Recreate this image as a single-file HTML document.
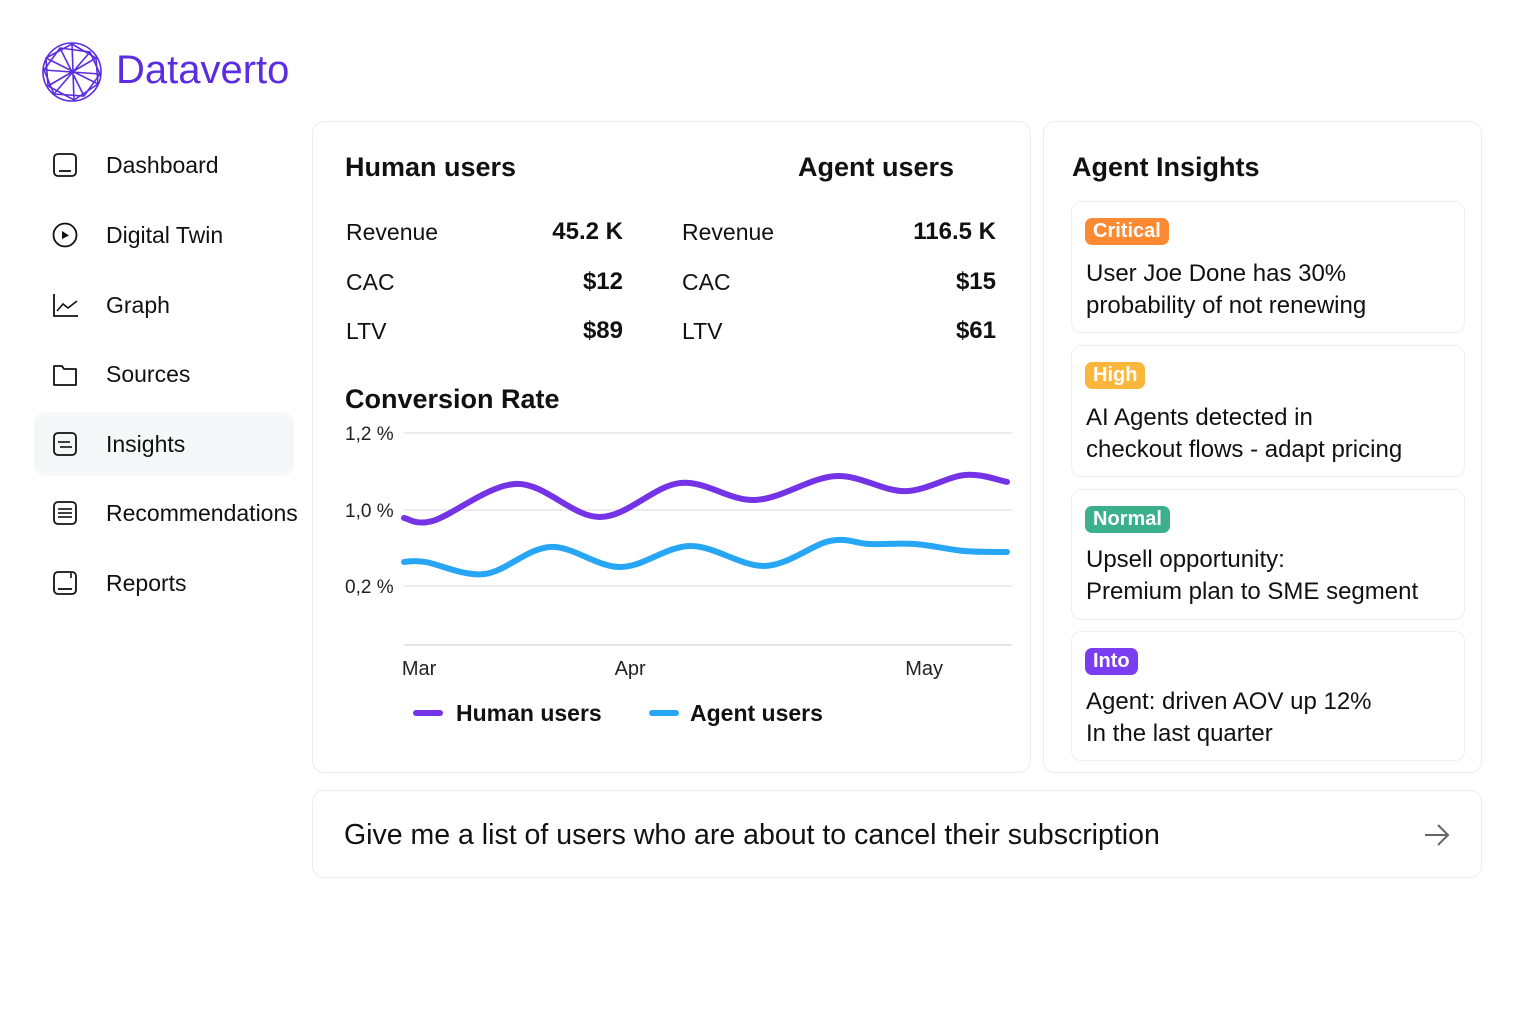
<!DOCTYPE html>
<html><head><meta charset="utf-8"><style>
*{box-sizing:border-box;margin:0;padding:0}
body{width:1536px;height:1024px;background:#fff;font-family:"Liberation Sans",sans-serif;color:#111;position:relative;overflow:hidden}
.a{position:absolute}
.card{position:absolute;border:1px solid #ececf1;border-radius:12px;background:#fff}
.nav{position:absolute;left:34px;width:260px;height:64px;display:flex;align-items:center;font-size:23px;color:#111}
.nav svg{position:absolute;left:18px}
.nav span{position:absolute;left:72px}
.h{font-size:27px;font-weight:bold}
.m{font-size:23px}
.b{font-size:24px;font-weight:bold;text-align:right}
.ins{position:absolute;left:1071px;width:394px;border:1px solid #efeff3;border-radius:10px}
.tag{position:absolute;left:13px;top:16px;color:#fff;font-weight:bold;font-size:20px;padding:2px 8px;border-radius:7px}
.it{position:absolute;left:14px;font-size:24px;line-height:32px;color:#111}
</style></head><body>
<div class="a" style="left:40px;top:40px;width:260px;height:64px">
<svg width="64" height="64" viewBox="0 0 64 64" class="a" style="left:0;top:0">
<g fill="none" stroke="#5b2de0" stroke-width="1.6"><circle cx="32" cy="32" r="29"/><polygon points="32,4 56,18 58,44 34,60 8,46 6,18"/><polygon points="20,8 50,12 60,34 44,56 14,54 4,30"/><line x1="6" y1="18" x2="58" y2="44"/><line x1="56" y1="18" x2="8" y2="46"/><line x1="32" y1="4" x2="34" y2="60"/><line x1="20" y1="8" x2="44" y2="56"/><line x1="50" y1="12" x2="14" y2="54"/><line x1="4" y1="30" x2="60" y2="34"/></g></svg>
<div class="a" style="left:76px;top:8px;font-size:40px;color:#5b2de0">Dataverto</div>
</div>

<div class="nav" style="top:133px"><svg width="26" height="26" viewBox="0 0 26 26"><rect x="2" y="2" width="22" height="22" rx="4" fill="none" stroke="#111" stroke-width="1.8"/><line x1="7" y1="19" x2="19" y2="19" stroke="#111" stroke-width="1.8"/></svg><span>Dashboard</span></div>
<div class="nav" style="top:203px"><svg width="26" height="26" viewBox="0 0 26 26"><circle cx="13" cy="13" r="11.5" fill="none" stroke="#111" stroke-width="1.8"/><polygon points="10,9 17,13.5 10,17" fill="#111"/></svg><span>Digital Twin</span></div>
<div class="nav" style="top:273px"><svg width="26" height="26" viewBox="0 0 26 26"><polyline points="2,2 2,24 26,24" fill="none" stroke="#111" stroke-width="1.8"/><polyline points="5,19 11,12 16,16 25,9" fill="none" stroke="#111" stroke-width="1.6"/></svg><span>Graph</span></div>
<div class="nav" style="top:342px"><svg width="26" height="26" viewBox="0 0 26 26"><path d="M2 5h8l2 3h12v16H2z" fill="none" stroke="#111" stroke-width="1.8" stroke-linejoin="round"/></svg><span>Sources</span></div>
<div class="nav" style="top:412px;background:#f6f7f9;border-radius:12px"><svg width="26" height="26" viewBox="0 0 26 26"><rect x="2" y="2" width="22" height="22" rx="4" fill="none" stroke="#111" stroke-width="1.8"/><line x1="6" y1="11" x2="18" y2="11" stroke="#111" stroke-width="1.6"/><line x1="8" y1="16" x2="20" y2="16" stroke="#111" stroke-width="1.6"/></svg><span>Insights</span></div>
<div class="nav" style="top:481px"><svg width="26" height="26" viewBox="0 0 26 26"><rect x="2" y="2" width="22" height="22" rx="4" fill="none" stroke="#111" stroke-width="1.8"/><line x1="6" y1="9" x2="20" y2="9" stroke="#111" stroke-width="1.6"/><line x1="6" y1="13" x2="20" y2="13" stroke="#111" stroke-width="1.6"/><line x1="6" y1="17" x2="20" y2="17" stroke="#111" stroke-width="1.6"/></svg><span>Recommendations</span></div>
<div class="nav" style="top:551px"><svg width="26" height="26" viewBox="0 0 26 26"><rect x="2" y="2" width="22" height="22" rx="4" fill="none" stroke="#111" stroke-width="1.8"/><line x1="6" y1="19" x2="20" y2="19" stroke="#111" stroke-width="1.8"/><line x1="19" y1="3" x2="19" y2="8" stroke="#111" stroke-width="1.6"/></svg><span>Reports</span></div>

<div class="card" style="left:312px;top:121px;width:719px;height:652px">
<div class="a h" style="left:32px;top:30px">Human users</div>
<div class="a h" style="left:485px;top:30px">Agent users</div>
<div class="a m" style="left:33px;top:97px">Revenue</div><div class="a b" style="left:190px;width:120px;top:96px">45.2 K</div>
<div class="a m" style="left:33px;top:147px">CAC</div><div class="a b" style="left:190px;width:120px;top:146px">$12</div>
<div class="a m" style="left:33px;top:196px">LTV</div><div class="a b" style="left:190px;width:120px;top:195px">$89</div>
<div class="a m" style="left:369px;top:97px">Revenue</div><div class="a b" style="left:563px;width:120px;top:96px">116.5 K</div>
<div class="a m" style="left:369px;top:147px">CAC</div><div class="a b" style="left:563px;width:120px;top:146px">$15</div>
<div class="a m" style="left:369px;top:196px">LTV</div><div class="a b" style="left:563px;width:120px;top:195px">$61</div>
<div class="a h" style="left:32px;top:262px">Conversion Rate</div>
</div>
<svg id="chart" class="a" style="left:0;top:0" width="1536" height="1024"></svg>

<div class="card" style="left:1043px;top:121px;width:439px;height:652px">
<div class="a h" style="left:28px;top:30px">Agent Insights</div>
</div>
<div class="ins" style="top:201px;height:132px"><div class="tag" style="background:#fb8a32">Critical</div><div class="it" style="top:56px">User Joe Done has 30%<br>probability of not renewing</div></div>
<div class="ins" style="top:345px;height:132px"><div class="tag" style="background:#fbb73c">High</div><div class="it" style="top:56px">AI Agents detected in<br>checkout flows - adapt pricing</div></div>
<div class="ins" style="top:489px;height:131px"><div class="tag" style="background:#3bb08a">Normal</div><div class="it" style="top:54px">Upsell opportunity:<br>Premium plan to SME segment</div></div>
<div class="ins" style="top:631px;height:130px"><div class="tag" style="background:#7b3df0">Into</div><div class="it" style="top:54px">Agent: driven AOV up 12%<br>In the last quarter</div></div>

<div class="card" style="left:312px;top:790px;width:1170px;height:88px">
<div class="a" style="left:31px;top:28px;font-size:28.5px;color:#111">Give me a list of users who are about to cancel their subscription</div>
<svg class="a" style="left:1110px;top:31px" width="28" height="26" viewBox="0 0 28 26"><path d="M2 13h23M15 3l10 10-10 10" fill="none" stroke="#666" stroke-width="2"/></svg>
</div>

<script>
const humanDays=[0,4,15,26,36.6,46.6,57.2,66.4,74.4,80];
const humanVals=[0.916,0.890,1.068,0.926,1.070,1.026,1.088,1.049,1.091,1.073];
const agentDays=[0,2.8,10.7,19.4,28.7,38,47.9,56.5,61.8,67.8,74.4,80];
const agentVals=[0.453,0.453,0.326,0.611,0.400,0.621,0.411,0.674,0.642,0.642,0.568,0.558];
const yTicks=[0.2,1.0,1.2];
const yTickLabels=["0,2 %","1,0 %","1,2 %"];
const monthDays=[2,30,69];
const monthLabels=["Mar","Apr","May"];
const NS="http://www.w3.org/2000/svg";
const svg=document.getElementById('chart');
const X0=404,X1=1007;
function xs(d){return X0+(d-0)/80*(X1-X0);}
const yDom=[0,0.2,1.0,1.2],yRng=[645,586,510,433];
function ys(v){for(let i=1;i<yDom.length;i++){if(v<=yDom[i]||i==yDom.length-1){const t=(v-yDom[i-1])/(yDom[i]-yDom[i-1]);return yRng[i-1]+t*(yRng[i]-yRng[i-1]);}}}
function el(t,a){const e=document.createElementNS(NS,t);for(const k in a)e.setAttribute(k,a[k]);svg.appendChild(e);return e;}
const base=el('line',{x1:X0,x2:1012,y1:ys(0),y2:ys(0),stroke:'#e3e3e8','stroke-width':2});


yTicks.forEach((v,i)=>{
 const g=el('line',{x1:X0,x2:1012,y1:ys(v),y2:ys(v),stroke:'#e6e6ea','stroke-width':1.5});
 
 
 const t=el('text',{x:345,y:ys(v)+7,'font-size':19,fill:'#222','font-family':'Liberation Sans'});
 t.textContent=yTickLabels[i];
 
 
});
monthDays.forEach((d,i)=>{
 const t=el('text',{x:xs(d),y:675,'font-size':20,fill:'#222','text-anchor':'middle','font-family':'Liberation Sans'});
 t.textContent=monthLabels[i];
 
 
});
function path(days,vals){
 const p=days.map((d,i)=>[xs(d),ys(vals[i])]);
 let s='M'+p[0][0]+','+p[0][1];
 for(let i=0;i<p.length-1;i++){
  const p0=p[Math.max(0,i-1)],p1=p[i],p2=p[i+1],p3=p[Math.min(p.length-1,i+2)];
  const c1=[p1[0]+(p2[0]-p0[0])/6,p1[1]+(p2[1]-p0[1])/6],c2=[p2[0]-(p3[0]-p1[0])/6,p2[1]-(p3[1]-p1[1])/6];
  s+=' C'+c1+' '+c2+' '+p2;
 }
 return s;
}
const hl=el('path',{d:path(humanDays,humanVals),fill:'none',stroke:'#7433e6','stroke-width':6,'stroke-linecap':'round'});


const al=el('path',{d:path(agentDays,agentVals),fill:'none',stroke:'#27a6f5','stroke-width':6,'stroke-linecap':'round'});


[[416,'#7433e6','Human users',456],[652,'#27a6f5','Agent users',690]].forEach(([x,c,l,tx])=>{
 const g=el('line',{x1:x,x2:x+24,y1:713,y2:713,stroke:c,'stroke-width':6,'stroke-linecap':'round'});
 
 
 const t=el('text',{x:tx,y:721,'font-size':23,'font-weight':'bold',fill:'#111','font-family':'Liberation Sans'});
 t.textContent=l;
 
 
});
</script>
</body></html>
